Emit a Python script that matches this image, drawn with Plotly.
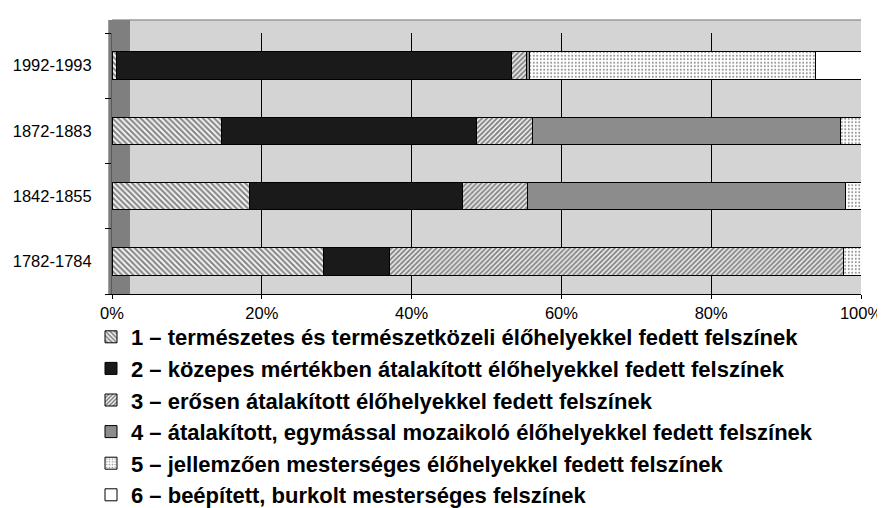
import plotly.graph_objects as go

categories = ["1782-1784", "1842-1855", "1872-1883", "1992-1993"]

s1 = [28.2, 18.3, 14.6, 0.6]
s2 = [8.9, 28.5, 34.1, 52.7]
s3 = [60.5, 8.7, 7.4, 2.1]
s4 = [0.0, 42.4, 41.1, 0.3]
s5 = [2.4, 2.1, 2.8, 38.2]
s6 = [0.0, 0.0, 0.0, 6.1]

names = [
    "1 – természetes és természetközeli élőhelyekkel fedett felszínek",
    "2 – közepes mértékben átalakított élőhelyekkel fedett felszínek",
    "3 – erősen átalakított élőhelyekkel fedett felszínek",
    "4 – átalakított, egymással mozaikoló élőhelyekkel fedett felszínek",
    "5 – jellemzően mesterséges élőhelyekkel fedett felszínek",
    "6 – beépített, burkolt mesterséges felszínek",
]

tick_vals = [0, 20, 40, 60, 80, 100]
tick_labels = ["0%", "20%", "40%", "60%", "80%", "100%"]

series = [s1, s2, s3, s4, s5, s6]
styles = [
    dict(color="#f4f4f4", pattern=dict(shape="\\", fgcolor="#111111", size=4, solidity=0.5)),
    dict(color="#1a1a1a"),
    dict(color="#f4f4f4", pattern=dict(shape="/", fgcolor="#111111", size=3.5, solidity=0.55)),
    dict(color="#8c8c8c"),
    dict(color="#ffffff", pattern=dict(shape=".", fgcolor="#222222", size=3.5, solidity=0.25)),
    dict(color="#ffffff"),
]

fig = go.Figure()
for i, (vals, nm, st) in enumerate(zip(series, names, styles)):
    marker = dict(line=dict(color="#000000", width=1), **st)
    fig.add_trace(go.Bar(
        y=categories, x=vals, name=nm, orientation="h",
        marker=marker, legendgroup=f"g{i}", width=0.42,
    ))

FONT = "Liberation Sans, Arial, sans-serif"

fig.update_layout(
    width=885, height=508,
    barmode="stack",
    paper_bgcolor="#ffffff",
    plot_bgcolor="#d4d4d4",
    margin=dict(l=104, r=32, t=25, b=222, autoexpand=False),
    showlegend=True,
    legend=dict(
        xref="container", yref="container",
        x=83 / 885, y=1 - 308 / 508, xanchor="left", yanchor="top",
        font=dict(family=FONT, size=22, color="#000000", weight="bold"),
        traceorder="grouped", tracegroupgap=0,
        bgcolor="rgba(0,0,0,0)",
    ),
    xaxis=dict(
        range=[0, 100], tickvals=tick_vals, ticktext=tick_labels,
        showgrid=True, gridcolor="#000000", gridwidth=1,
        zeroline=False, showline=True, linecolor="#000000", linewidth=1,
        ticks="outside", ticklen=4, tickcolor="#000000",
        tickfont=dict(family=FONT, size=16.5, color="#000000"),
    ),
    yaxis=dict(
        categoryorder="array", categoryarray=categories,
        showgrid=False, zeroline=False,
        showline=True, linecolor="#5a5a5a", linewidth=1,
        ticks="outside", ticklen=6, tickcolor="#000000", tickson="boundaries",
        tickfont=dict(family=FONT, size=16.5, color="#000000"),
        ticklabelstandoff=16,
    ),
    shapes=[
        dict(type="rect", xref="paper", yref="paper", x0=0, x1=1, y0=1, y1=1.05,
             fillcolor="#d4d4d4", line=dict(width=0), layer="below"),
        dict(type="line", xref="paper", yref="paper", x0=0, x1=1, y0=1.05, y1=1.05,
             line=dict(color="#9a9a9a", width=1.5), layer="below"),
        dict(type="rect", xref="paper", yref="paper", x0=-0.005, x1=0.024, y0=0, y1=1.05,
             fillcolor="#7f7f7f", line=dict(width=0), layer="below"),
    ],
)

fig.write_html("out.html")
